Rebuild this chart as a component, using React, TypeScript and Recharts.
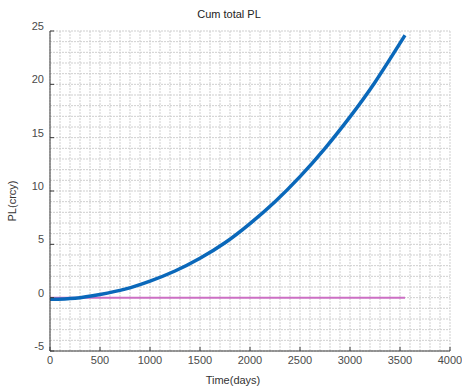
import React from 'react';
import { LineChart, Line, XAxis, YAxis, CartesianGrid, Label } from 'recharts';

const days = [0, 250, 500, 750, 1000, 1250, 1500, 1750, 2000, 2250, 2500, 2750, 3000, 3250, 3550];
const cumPL = [-0.15, -0.05, 0.3, 0.8, 1.55, 2.5, 3.7, 5.15, 6.95, 9.0, 11.35, 14.0, 16.95, 20.2, 24.6];
const zeroLine = [0, 0, 0, 0, 0, 0, 0, 0, 0, 0, 0, 0, 0, 0, 0];

const xTicks = [0, 500, 1000, 1500, 2000, 2500, 3000, 3500, 4000];
const yTicks = [-5, 0, 5, 10, 15, 20, 25];
const xMinor = Array.from({ length: 41 }, (_, i) => i * 100);
const yMinor = Array.from({ length: 31 }, (_, i) => i - 5);

const data = days.map((d, i) => ({ t: d, pl: cumPL[i], z: zeroLine[i] }));

const FONT = '"Liberation Sans", Arial, Helvetica, sans-serif';
const AX = '#3a3a3a';

export default function App() {
  return (
    <div style={{ position: 'absolute', left: 0, top: 0, width: 462, height: 390, background: '#fff', fontFamily: FONT }}>
      <div
        style={{
          position: 'absolute',
          left: 0,
          top: 7,
          width: 458,
          textAlign: 'center',
          fontSize: 11,
          lineHeight: '14px',
          color: '#222',
          fontFamily: FONT,
        }}
      >
        Cum total PL
      </div>
      <LineChart
        width={462}
        height={390}
        data={data}
        margin={{ top: 31, right: 12, bottom: 0, left: 0 }}
        style={{ fontFamily: FONT }}
      >
        <CartesianGrid
          horizontalValues={yMinor}
          verticalValues={xMinor}
          stroke="#cfcfcf"
          strokeDasharray="2 1"
          strokeWidth={1}
        />
        <XAxis
          dataKey="t"
          type="number"
          domain={[0, 4000]}
          ticks={xTicks}
          height={39}
          tickSize={-4}
          tickMargin={9}
          axisLine={{ stroke: AX }}
          tickLine={{ stroke: AX }}
          tick={{ fill: '#4a4a4a', fontSize: 11, fontFamily: FONT }}
          interval={0}
        >
          <Label value="Time(days)" position="center" dx={-17} dy={9.5} fill="#333" fontSize={11} fontFamily={FONT} />
        </XAxis>
        <XAxis
          xAxisId="top"
          dataKey="t"
          type="number"
          orientation="top"
          domain={[0, 4000]}
          ticks={xTicks}
          height={0}
          mirror
          tick={false}
          tickSize={4}
          axisLine={{ stroke: AX }}
          tickLine={{ stroke: AX }}
          interval={0}
        />
        <YAxis
          type="number"
          domain={[-5, 25]}
          ticks={yTicks}
          width={50}
          tickSize={-4}
          tickMargin={10}
          axisLine={{ stroke: AX }}
          tickLine={{ stroke: AX }}
          tick={{ fill: '#4a4a4a', fontSize: 11, fontFamily: FONT, dy: -5 }}
          interval={0}
        >
          <Label value="PL(crcy)" position="center" angle={-90} dx={-12.5} dy={10} fill="#333" fontSize={11} fontFamily={FONT} />
        </YAxis>
        <YAxis
          yAxisId="right"
          type="number"
          orientation="right"
          domain={[-5, 25]}
          ticks={yTicks}
          width={0}
          mirror
          tick={false}
          tickSize={4}
          axisLine={{ stroke: AX }}
          tickLine={{ stroke: AX }}
          interval={0}
        />
        <Line
          dataKey="z"
          type="linear"
          stroke="#cc6fc4"
          strokeWidth={2}
          dot={false}
          isAnimationActive={false}
        />
        <Line
          dataKey="pl"
          type="natural"
          stroke="#0a68ba"
          strokeWidth={3.5}
          dot={false}
          isAnimationActive={false}
        />
      </LineChart>
    </div>
  );
}
